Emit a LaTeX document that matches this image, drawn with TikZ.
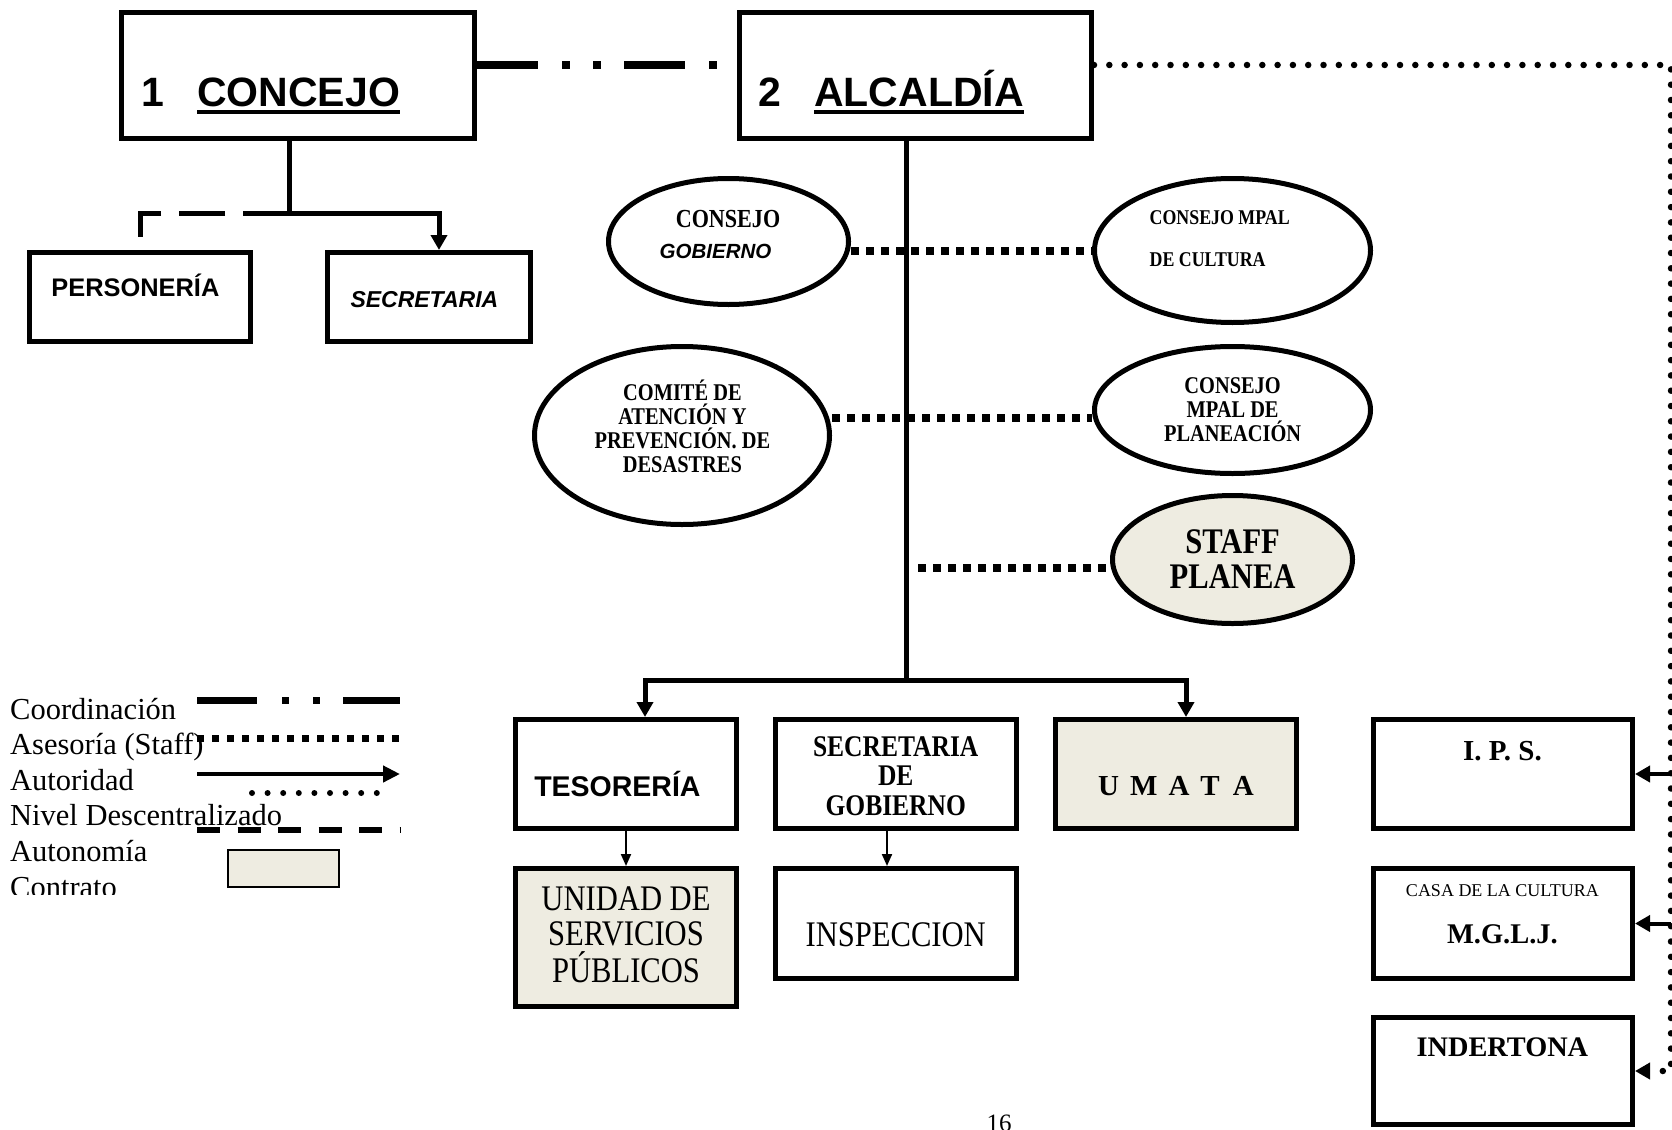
\documentclass[tikz,border=0pt]{standalone}
\usepackage{fontspec}
\setmainfont{Liberation Serif}
\newfontfamily\arial{Liberation Sans}
\newfontfamily\cond{Liberation Serif}[FakeStretch=0.85]
\usetikzlibrary{arrows.meta,shapes.geometric}
\definecolor{beige}{HTML}{EEECE1}
\newcommand\setfs[1]{\fontsize{#1}{#1}\selectfont}
\begin{document}
\begin{tikzpicture}[x=1pt,y=-1pt,
  box/.style={draw,line width=5pt,rectangle,inner sep=0pt},
  oval/.style={draw,line width=5pt,ellipse,inner sep=0pt},
  txt/.style={inner sep=0pt,anchor=base},
  autor/.style={line width=5pt,-{Triangle[length=15pt,width=16pt]}},
  thinarrow/.style={line width=2pt,-{Triangle[length=12pt,width=10pt]}},
  coordl/.style={line width=8pt,dash pattern=on 61pt off 24pt on 8pt off 23pt on 8pt off 23pt},
  staffl/.style={line width=8pt,dash pattern=on 8pt off 7pt},
  dotl/.style={line width=6.5pt,line cap=round,dash pattern=on 0pt off 15.3pt},
  descl/.style={line width=5pt,dash pattern=on 46pt off 18pt}]
\useasboundingbox (0,0) rectangle (1672,1129);

% ---------- boxes ----------
\node[box,minimum width=353pt,minimum height=126pt] (concejo) at (298,75.5) {};
\node[box,minimum width=352pt,minimum height=126pt] (alcaldia) at (915.5,75.5) {};
\node[box,minimum width=221pt,minimum height=89pt] (personeria) at (140,297) {};
\node[box,minimum width=203pt,minimum height=89pt] (secretaria) at (429,297) {};
\node[box,minimum width=221pt,minimum height=109pt] (tesoreria) at (626,774) {};
\node[box,minimum width=241pt,minimum height=109pt] (secgob) at (896,774) {};
\node[box,fill=beige,minimum width=241pt,minimum height=109pt] (umata) at (1176,774) {};
\node[box,fill=beige,minimum width=221pt,minimum height=138pt] (usp) at (626,937.5) {};
\node[box,minimum width=241pt,minimum height=110pt] (inspeccion) at (896,923.5) {};
\node[box,minimum width=259pt,minimum height=109pt] (ips) at (1503,774) {};
\node[box,minimum width=259pt,minimum height=110pt] (mglj) at (1503,923.5) {};
\node[box,minimum width=259pt,minimum height=107pt] (indertona) at (1503,1071) {};

% ---------- ellipses ----------
\node[oval,minimum width=240pt,minimum height=126pt] (gob) at (728.5,241.5) {};
\node[oval,minimum width=276pt,minimum height=144pt] (cult) at (1232.5,250.5) {};
\node[oval,minimum width=295pt,minimum height=178pt] (com) at (682,435.5) {};
\node[oval,minimum width=276pt,minimum height=127pt] (plan) at (1232.5,410) {};
\node[oval,fill=beige,minimum width=240pt,minimum height=128pt] (staff) at (1232.5,559.5) {};

% ---------- texts ----------
\node[txt,anchor=base west,font=\arial\bfseries\setfs{41}] (n1) at (141,107) {1};
\node[txt,anchor=base west,font=\arial\bfseries\setfs{41}] (cjT) at (197,107) {CONCEJO};
\draw[line width=4pt] ([yshift=-5pt]cjT.base west) -- ([yshift=-5pt]cjT.base east);
\node[txt,anchor=base west,font=\arial\bfseries\setfs{41}] (n2) at (758,107) {2};
\node[txt,anchor=base west,font=\arial\bfseries\setfs{41}] (alT) at (814,107) {ALCALDÍA};
\draw[line width=4pt] ([yshift=-5pt]alT.base west) -- ([yshift=-5pt]alT.base east);

\node[txt,font=\arial\bfseries\setfs{25.4}] (persT) at (135.4,296) {PERSONERÍA};
\node[txt,font=\arial\bfseries\itshape\setfs{23}] (secT) at (424.4,307.8) {SECRETARIA};

\node[txt,font=\cond\bfseries\setfs{26}] (gobT1) at (728,227) {CONSEJO};
\node[txt,font=\arial\bfseries\itshape\setfs{20.5}] (gobT2) at (715.5,258) {GOBIERNO};

\node[txt,anchor=base west,font=\cond\bfseries\setfs{21}] (cultT1) at (1149.5,224.5) {CONSEJO MPAL};
\node[txt,anchor=base west,font=\cond\bfseries\setfs{21}] (cultT2) at (1149.5,266) {DE CULTURA};

\node[txt,font=\cond\bfseries\setfs{24}] (comT1) at (682.4,400.4) {COMITÉ DE};
\node[txt,font=\cond\bfseries\setfs{24}] (comT2) at (682.4,424) {ATENCIÓN Y};
\node[txt,font=\cond\bfseries\setfs{24}] (comT3) at (682.4,448.4) {PREVENCIÓN. DE};
\node[txt,font=\cond\bfseries\setfs{24}] (comT4) at (682.4,472) {DESASTRES};

\node[txt,font=\cond\bfseries\setfs{24}] (planT1) at (1232.6,393) {CONSEJO};
\node[txt,font=\cond\bfseries\setfs{24}] (planT2) at (1232.6,417) {MPAL DE};
\node[txt,font=\cond\bfseries\setfs{24}] (planT3) at (1232.6,441) {PLANEACIÓN};

\node[txt,font=\cond\bfseries\setfs{36}] (staffT1) at (1232.6,553.6) {STAFF};
\node[txt,font=\cond\bfseries\setfs{36}] (staffT2) at (1232.6,588.8) {PLANEA};

\node[txt,font=\arial\bfseries\setfs{28.5}] (tesT) at (617.4,796) {TESORERÍA};
\node[txt,font=\cond\bfseries\setfs{30}] (sgT1) at (895.7,756.4) {SECRETARIA};
\node[txt,font=\cond\bfseries\setfs{30}] (sgT2) at (895.7,785.2) {DE};
\node[txt,font=\cond\bfseries\setfs{30}] (sgT3) at (895.7,815) {GOBIERNO};
\node[txt,font=\bfseries\setfs{29}] (umT) at (1176,795.6) {U\hspace{11pt}M\hspace{11pt}A\hspace{11pt}T\hspace{13pt}A};

\node[txt,font=\cond\setfs{36}] (uspT1) at (626,910.8) {UNIDAD DE};
\node[txt,font=\cond\setfs{36}] (uspT2) at (626,945.9) {SERVICIOS};
\node[txt,font=\cond\setfs{36}] (uspT3) at (626,982.2) {PÚBLICOS};
\node[txt,font=\cond\setfs{36}] (insT) at (895.7,946) {INSPECCION};

\node[txt,font=\bfseries\setfs{29}] (ipsT) at (1502.4,760.3) {I. P. S.};
\node[txt,font=\setfs{18}] (casaT) at (1502.4,896.4) {CASA DE LA CULTURA};
\node[txt,font=\bfseries\setfs{28.5}] (mgljT) at (1502.4,943.4) {M.G.L.J.};
\node[txt,font=\bfseries\setfs{28.3}] (indT) at (1502.4,1056.4) {INDERTONA};

\node[txt,font=\setfs{25}] (pg) at (999,1131) {16};

% ---------- connectors ----------
\coordinate (cj) at (289,213);
\coordinate (pd) at (140,237);
\draw[line width=5pt] (cj |- concejo.south) -- (cj);
\draw[autor] (cj) -| ([xshift=10pt]secretaria.north);
\draw[descl] (cj) -| (pd);

\coordinate (toprow) at (1671,65);
\draw[coordl] (concejo.east |- toprow) -- (alcaldia.west |- toprow);
\draw[dotl,-{Triangle[length=15pt,width=16pt]}] (alcaldia.east |- toprow) -- (toprow) -- (toprow |- indertona.east) -- (indertona.east);
\draw[line width=4pt,-{Triangle[length=15pt,width=16pt]}] (toprow |- ips.east) -- (ips.east);
\draw[line width=4pt,-{Triangle[length=15pt,width=16pt]}] (toprow |- mglj.east) -- (mglj.east);

\coordinate (br) at (906,680);
\draw[line width=5pt] (br |- alcaldia.south) -- (br);
\draw[autor] (br) -| ([xshift=19pt]tesoreria.north);
\draw[autor] (br) -| ([xshift=10pt]umata.north);
\draw[thinarrow] (tesoreria.south) -- (usp.north);
\draw[thinarrow] ([xshift=-9pt]secgob.south) -- ([xshift=-9pt]inspeccion.north);

\coordinate (s2) at (906,418);
\coordinate (s3) at (918,568);
\draw[staffl] (gob.east |- cult.west) -- (cult.west);
\draw[staffl] (com.east |- s2) -- (plan.west |- s2);
\draw[staffl] (s3) -- (staff.west |- s3);

% ---------- legend ----------
\begin{scope}
\clip (0,600) rectangle (420,894.5);
\node[txt,anchor=base west,font=\setfs{30.5}] (lg1) at (10,719) {Coordinación};
\node[txt,anchor=base west,font=\setfs{30.5}] (lg2) at (10,754.5) {Asesoría (Staff)};
\node[txt,anchor=base west,font=\setfs{30.5}] (lg3) at (10,790) {Autoridad};
\node[txt,anchor=base west,font=\setfs{30.5}] (lg4) at (10,825.5) {Nivel Descentralizado};
\node[txt,anchor=base west,font=\setfs{30.5}] (lg5) at (10,861) {Autonomía};
\node[txt,anchor=base west,font=\setfs{30.5}] (lg6) at (10,897) {Contrato};
\end{scope}
\draw[line width=7pt,dash pattern=on 60pt off 25pt on 7pt off 24pt on 7pt off 23pt] (197,700) -- (400,700);
\draw[line width=7pt,dash pattern=on 7pt off 8pt] (197,738) -- (400,738);
\draw[line width=4.5pt,-{Triangle[length=17pt,width=16pt]}] (197,774) -- (400,774);
\draw[line width=6pt,line cap=round,dash pattern=on 0pt off 15.6pt] (252,793) -- (378,793);
\draw[line width=6pt,dash pattern=on 23pt off 17.5pt] (197,830) -- (400,830);
\draw[line width=1.5pt,fill=beige] (228,850) rectangle (339,887);
\end{tikzpicture}
\end{document}
